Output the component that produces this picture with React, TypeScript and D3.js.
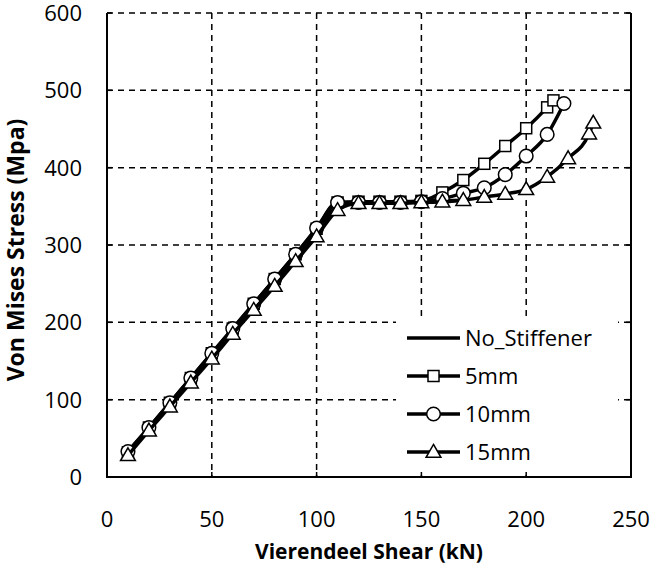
import React, { useEffect, useRef } from 'react';
import * as d3 from 'd3';

const xNoStiff = [10, 20, 30, 40, 50, 60, 70, 80, 90, 100, 110, 120, 130, 140, 150, 160, 170];
const yNoStiff = [30, 62, 93, 125, 156, 188, 219, 251, 283, 316, 350, 355, 355, 355, 356, 357, 358];

const x5 = [10, 20, 30, 40, 50, 60, 70, 80, 90, 100, 110, 120, 130, 140, 150, 160, 170, 180, 190, 200, 210, 213];
const y5 = [32, 64, 96, 128, 160, 192, 224, 256, 288, 321, 355, 356, 356, 356, 357, 368, 384, 405, 428, 451, 478, 487];

const x10 = [10, 20, 30, 40, 50, 60, 70, 80, 90, 100, 110, 120, 130, 140, 150, 160, 170, 180, 190, 200, 210, 218];
const y10 = [33, 64, 96, 128, 160, 192, 224, 256, 288, 322, 355, 355, 355, 355, 356, 360, 367, 374, 391, 415, 443, 483];

const x15 = [10, 20, 30, 40, 50, 60, 70, 80, 90, 100, 110, 120, 130, 140, 150, 160, 170, 180, 190, 200, 210, 220, 230, 232];
const y15 = [28, 60, 91, 122, 153, 185, 216, 247, 279, 311, 345, 354, 354, 354, 355, 356, 358, 362, 366, 372, 388, 412, 444, 458];

const seriesNames = ['No_Stiffener', '5mm', '10mm', '15mm'];
const xTicks = [0, 50, 100, 150, 200, 250];
const yTicks = [0, 100, 200, 300, 400, 500, 600];

const App: React.FC = () => {
  const ref = useRef<SVGSVGElement>(null);

  useEffect(() => {
    if (!ref.current) return;
    const svg = d3.select(ref.current);
    svg.selectAll('*').remove();

    const left = 107, right = 631, top = 13, bottom = 477;
    const x = d3.scaleLinear().domain([0, 250]).range([left, right]);
    const y = d3.scaleLinear().domain([0, 600]).range([bottom, top]);
    const font = "'Open Sans', Calibri, sans-serif";

    // grid
    svg.append('g').selectAll('line')
      .data(xTicks.slice(1, -1))
      .enter().append('line')
      .attr('x1', d => x(d)).attr('x2', d => x(d))
      .attr('y1', top).attr('y2', bottom)
      .attr('stroke', '#000').attr('stroke-width', 1.5)
      .attr('stroke-dasharray', '6,5');
    svg.append('g').selectAll('line')
      .data(yTicks.slice(1, -1))
      .enter().append('line')
      .attr('x1', left).attr('x2', right)
      .attr('y1', d => y(d)).attr('y2', d => y(d))
      .attr('stroke', '#000').attr('stroke-width', 1.5)
      .attr('stroke-dasharray', '6,5');
    svg.append('line')
      .attr('x1', left).attr('x2', right).attr('y1', top).attr('y2', top)
      .attr('stroke', '#000').attr('stroke-width', 1.5).attr('stroke-dasharray', '6,5');

    // frame
    svg.append('path')
      .attr('d', `M${left},${top}V${bottom}H${right}V${top}`)
      .attr('fill', 'none').attr('stroke', '#000').attr('stroke-width', 2);

    // ticks
    svg.append('g').selectAll('line')
      .data(xTicks)
      .enter().append('line')
      .attr('x1', d => x(d)).attr('x2', d => x(d))
      .attr('y1', bottom).attr('y2', bottom - 5)
      .attr('stroke', '#000').attr('stroke-width', 1.5);
    svg.append('g').selectAll('line')
      .data(yTicks)
      .enter().append('line')
      .attr('x1', left).attr('x2', left + 5)
      .attr('y1', d => y(d)).attr('y2', d => y(d))
      .attr('stroke', '#000').attr('stroke-width', 1.5);
    svg.append('g').selectAll('line')
      .data(yTicks)
      .enter().append('line')
      .attr('x1', right).attr('x2', right - 5)
      .attr('y1', d => y(d)).attr('y2', d => y(d))
      .attr('stroke', '#000').attr('stroke-width', 1.5);

    // tick labels (baseline placed so digits are centred on the tick)
    svg.append('g').selectAll('text')
      .data(xTicks)
      .enter().append('text')
      .attr('x', d => x(d)).attr('y', 527)
      .attr('text-anchor', 'middle')
      .attr('font-family', font).attr('font-size', 22).attr('fill', '#000')
      .text(d => d);
    svg.append('g').selectAll('text')
      .data(yTicks)
      .enter().append('text')
      .attr('x', 82).attr('y', d => y(d) + 8)
      .attr('text-anchor', 'end')
      .attr('font-family', font).attr('font-size', 22).attr('fill', '#000')
      .text(d => d);

    // axis titles
    svg.append('text')
      .attr('x', 369).attr('y', 559)
      .attr('text-anchor', 'middle')
      .attr('font-family', font).attr('font-size', 21).attr('font-weight', 'bold')
      .text('Vierendeel Shear (kN)');
    svg.append('text')
      .attr('transform', `translate(24,250) rotate(-90)`)
      .attr('text-anchor', 'middle')
      .attr('font-family', font).attr('font-size', 23).attr('font-weight', 'bold')
      .text('Von Mises Stress (Mpa)');

    const line = d3.line<[number, number]>()
      .x(d => x(d[0])).y(d => y(d[1]))
      .curve(d3.curveMonotoneX);

    const series = [
      { xs: xNoStiff, ys: yNoStiff, marker: 'none' },
      { xs: x5, ys: y5, marker: 'square' },
      { xs: x10, ys: y10, marker: 'circle' },
      { xs: x15, ys: y15, marker: 'triangle' },
    ];

    const drawMarker = (g: any, marker: string, cx: number, cy: number) => {
      if (marker === 'square') {
        const s = 11;
        g.append('rect').attr('x', cx - s / 2).attr('y', cy - s / 2)
          .attr('width', s).attr('height', s)
          .attr('fill', '#fff').attr('stroke', '#000').attr('stroke-width', 1.5);
      } else if (marker === 'circle') {
        g.append('circle').attr('cx', cx).attr('cy', cy).attr('r', 6.8)
          .attr('fill', '#fff').attr('stroke', '#000').attr('stroke-width', 1.5);
      } else if (marker === 'triangle') {
        const sym = d3.symbol().type(d3.symbolTriangle).size(95);
        g.append('path').attr('d', sym() as string)
          .attr('transform', `translate(${cx},${cy + 1})`)
          .attr('fill', '#fff').attr('stroke', '#000').attr('stroke-width', 1.5);
      }
    };

    series.forEach(s => {
      const pts: [number, number][] = s.xs.map((v, i) => [v, s.ys[i]]);
      svg.append('path').datum(pts)
        .attr('d', line)
        .attr('fill', 'none').attr('stroke', '#000').attr('stroke-width', 3.5);
      const g = svg.append('g');
      pts.forEach(p => drawMarker(g, s.marker, x(p[0]), y(p[1])));
    });

    // legend
    const lg = svg.append('g');
    lg.append('rect').attr('x', 396).attr('y', 318).attr('width', 222).attr('height', 152)
      .attr('fill', '#fff');
    const rowY = [338, 376, 414, 452];
    seriesNames.forEach((name, i) => {
      lg.append('line').attr('x1', 407).attr('x2', 460)
        .attr('y1', rowY[i]).attr('y2', rowY[i])
        .attr('stroke', '#000').attr('stroke-width', 3.5);
      drawMarker(lg, series[i].marker, 433.5, rowY[i]);
      lg.append('text').attr('x', 465).attr('y', rowY[i] + 8)
        .attr('font-family', font).attr('font-size', 22).attr('fill', '#000')
        .text(name);
    });
  }, []);

  return <svg ref={ref} width={652} height={567} style={{ display: 'block', position: 'absolute', left: 0, top: 0 }} />;
};

export default App;
